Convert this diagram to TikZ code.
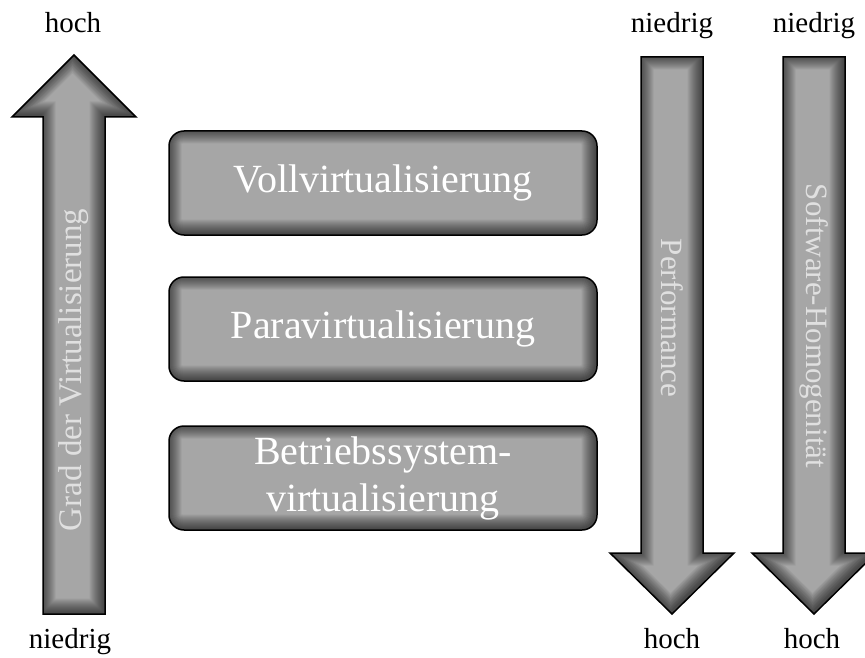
\documentclass[tikz,border=0pt]{standalone}
\usepackage{fontspec}
\setmainfont{Liberation Serif}

\definecolor{shapegray}{gray}{0.65}
\definecolor{arrowtextgray}{gray}{0.88}

% one arrow: gray fill, soft dark rim inside, black outline
\newcommand\shadedarrow[1]{%
  \fill[shapegray] #1;
  \begin{scope}
    \clip #1;
    \foreach \w in {2,4,...,28}
      \draw[black, opacity=.05, line width=\w pt, line join=miter, shift={(-1.5,-1.5)}] #1;
  \end{scope}
  \draw[black, line width=1.5pt, line join=miter] #1;}

\tikzset{
  scalelabel/.style={font=\fontsize{29}{34}\selectfont, anchor=base, inner sep=0pt},
  arrowtext/.style={font=\fontsize{31}{36}\selectfont, text=arrowtextgray, inner sep=0pt},
  virtbox/.style={draw=black, line width=1.5pt, fill=shapegray, rounded corners=15pt,
    minimum width=428pt, minimum height=104pt, align=center, text=white, inner sep=0pt,
    font=\fontsize{40}{47}\selectfont,
    path picture={
      \foreach \w in {2,4,...,28}
        \draw[black, opacity=.05, line width=\w pt, rounded corners=15pt]
          ([xshift=-1.5pt,yshift=1.5pt]path picture bounding box.south west) rectangle
          ([xshift=-1.5pt,yshift=1.5pt]path picture bounding box.north east);
    }}
}

\begin{document}
\begin{tikzpicture}[x=1pt, y=-1pt]

    \useasboundingbox (0,0) rectangle (865,658);

    % arrows
    \shadedarrow{(74,55) -- (136,117) -- (105,117) -- (105,614) -- (43,614) -- (43,117) -- (12,117) -- cycle}
    \shadedarrow{(641,57) -- (703,57) -- (703,553) -- (734,553) -- (672,614) -- (610,553) -- (641,553) -- cycle}
    \shadedarrow{(783,57) -- (845,57) -- (845,553) -- (876,553) -- (814,614) -- (752,553) -- (783,553) -- cycle}

    \node[arrowtext, rotate=90, font=\fontsize{33}{38}\selectfont] (grad) at (74,370) {Grad der Virtualisierung};
    \node[arrowtext, rotate=-90] (perf) at (672,318) {Performance};
    \node[arrowtext, rotate=-90] (homog) at (814,326) {Software-Homogenität};

    % boxes
    \node[virtbox] (voll) at (383,183) {Vollvirtualisierung};
    \node[virtbox] (para) at (383,329) {Paravirtualisierung};
    \node[virtbox] (bsv) at (383,478) {Betriebssystem-\\virtualisierung};

    % scale labels
    \node[scalelabel] (gradtop) at (73,33) {hoch};
    \node[scalelabel] (gradbot) at (70,648) {niedrig};
    \node[scalelabel] (perftop) at (672,33) {niedrig};
    \node[scalelabel] (perfbot) at (672,648) {hoch};
    \node[scalelabel] (homogtop) at (814,33) {niedrig};
    \node[scalelabel] (homogbot) at (812,648) {hoch};

\end{tikzpicture}
\end{document}
